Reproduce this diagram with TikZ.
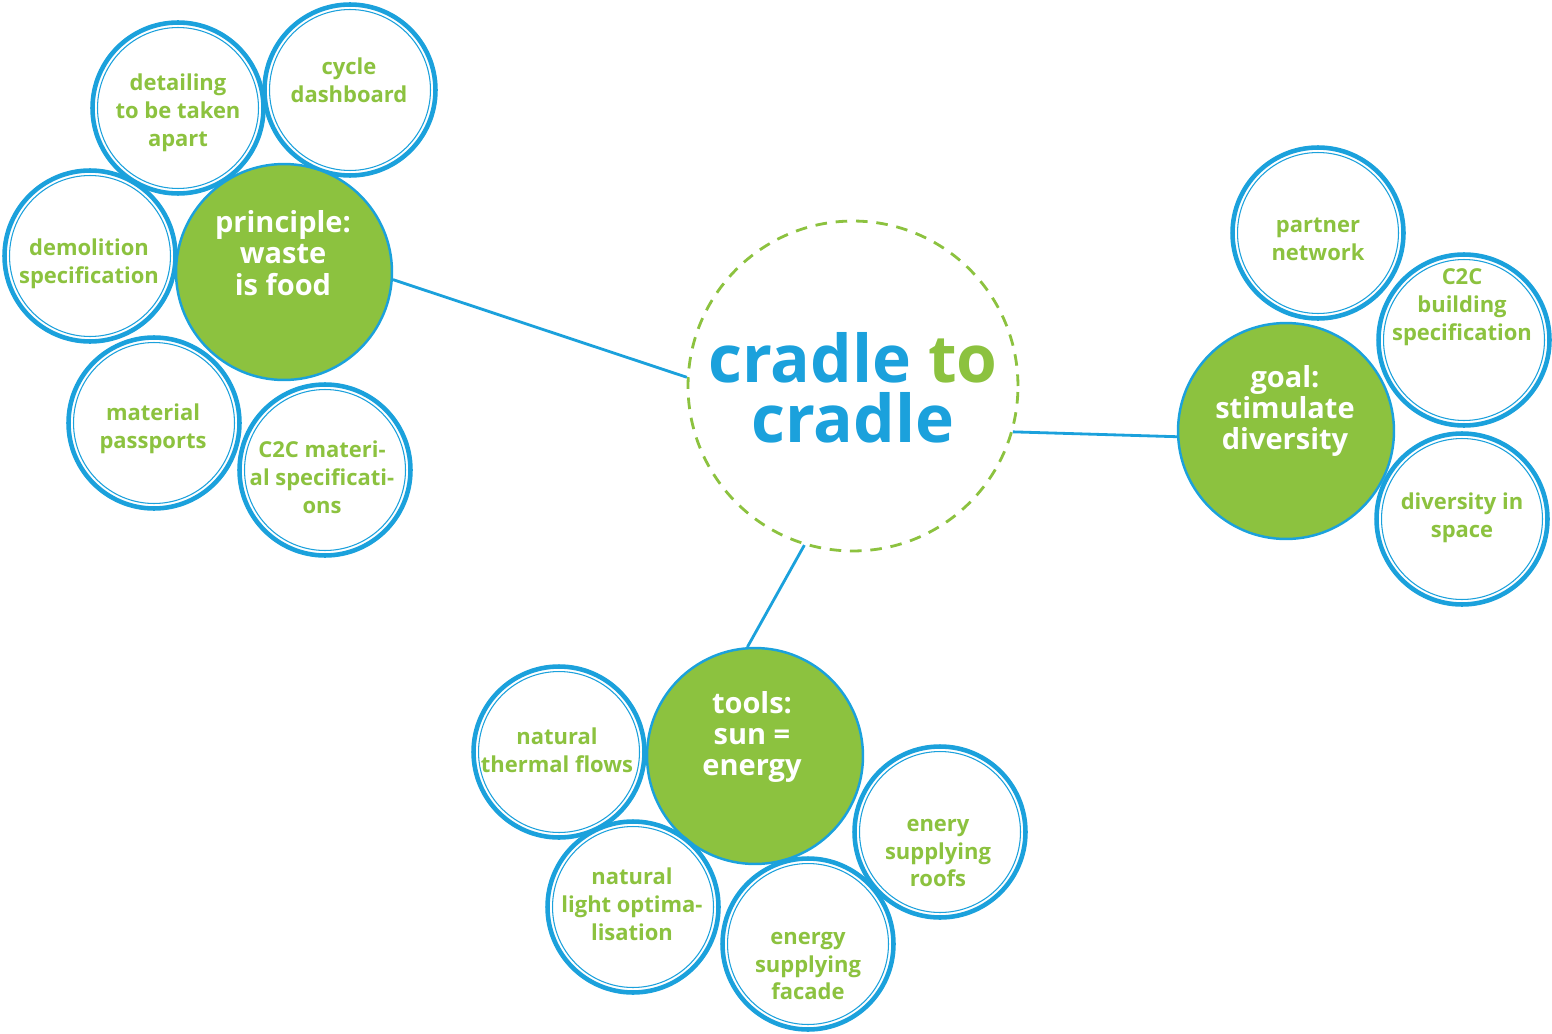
\documentclass[tikz,border=0pt]{standalone}
\usepackage{fontspec}
\setmainfont{Open Sans}
\definecolor{c2cblue}{HTML}{1BA1DC}
\definecolor{c2cgreen}{HTML}{8CC23F}
\begin{document}
\begin{tikzpicture}[x=0.02cm,y=-0.02cm,
  leaf/.style={circle, draw=c2cblue, line width=2.6pt, fill=white, minimum size=3.42cm, inner sep=0pt},
  ring/.style={draw=c2cblue, line width=0.6pt},
  hub/.style={circle, draw=c2cblue, line width=1.4pt, fill=c2cgreen, minimum size=4.32cm, inner sep=0pt},
  leaftext/.style={text=c2cgreen, font=\bfseries\fontsize{12.5}{15.9}\selectfont, align=center, inner sep=0pt},
  hubtext/.style={text=white, font=\bfseries\fontsize{16.5}{17.8}\selectfont, align=center, inner sep=0pt},
  link/.style={draw=c2cblue, line width=1.6pt},
  core/.style={circle, draw=c2cgreen, line width=1.6pt, dash pattern=on 6.6pt off 5pt, minimum size=6.6cm, inner sep=0pt}
]
\useasboundingbox (0,0) rectangle (1552,1034);

% centre
\node[core] (ctr) at (853,386) {};
\node[font=\bfseries\fontsize{37.5}{34}\selectfont, align=center, inner sep=0pt] (ctr-t) at (853,388)
  {\textcolor{c2cblue}{cradle} \textcolor{c2cgreen}{to}\\\textcolor{c2cblue}{cradle}};

% left cluster
\node[leaf] (det) at (178,108) {};
\node[leaf] (cyc) at (350,90) {};
\node[leaf] (dem) at (90,256) {};
\node[leaf] (mat) at (154,423) {};
\node[leaf] (c2cm) at (325,470) {};
\node[hub] (prin) at (284,272) {};

% right cluster
\node[leaf] (part) at (1318,233) {};
\node[leaf] (c2cb) at (1464,340) {};
\node[leaf] (div) at (1462,519) {};
\node[hub] (goal) at (1286,431) {};

% bottom cluster
\node[leaf] (therm) at (559,752) {};
\node[leaf] (roof) at (940,832) {};
\node[hub] (tools) at (755,756) {};
\node[leaf] (light) at (633,907) {};
\node[leaf] (fac) at (808,944) {};

% inner rings
\foreach \n in {det,cyc,dem,mat,c2cm,part,c2cb,div,therm,roof,light,fac}
  \draw[ring] (\n.center) circle[radius=1.61cm];

% texts
\node[leaftext] (det-t) at (178,113) {detailing\\to be taken\\apart};
\node[leaftext] (cyc-t) at (349,80) {cycle\\dashboard};
\node[leaftext] (dem-t) at (89,264) {demolition\\specification};
\node[leaftext] (mat-t) at (153,429) {material\\passports};
\node[leaftext] (c2cm-t) at (322,477) {C2C materi-\\al specificati-\\ons};
\node[hubtext] (prin-t) at (283,253) {principle:\\waste\\is food};

\node[leaftext] (part-t) at (1318,239) {partner\\network};
\node[leaftext] (c2cb-t) at (1462,307) {C2C\\building\\specification};
\node[leaftext] (div-t) at (1462,518) {diversity in\\space};
\node[hubtext] (goal-t) at (1285,411) {goal:\\stimulate\\diversity};

\node[leaftext] (therm-t) at (557,750) {natural\\thermal flows};
\node[leaftext] (roof-t) at (938,853) {enery\\supplying\\roofs};
\node[leaftext] (light-t) at (632,904) {natural\\light optima-\\lisation};
\node[leaftext] (fac-t) at (808,966) {energy\\supplying\\facade};
\node[hubtext] (tools-t) at (752,737) {tools:\\sun =\\energy};

% connectors
\draw[link] (prin.-4) -- (ctr.177);
\draw[link] (goal.183) -- (ctr.-16);
\draw[link] (tools.94) -- (ctr.253);
\end{tikzpicture}
\end{document}
